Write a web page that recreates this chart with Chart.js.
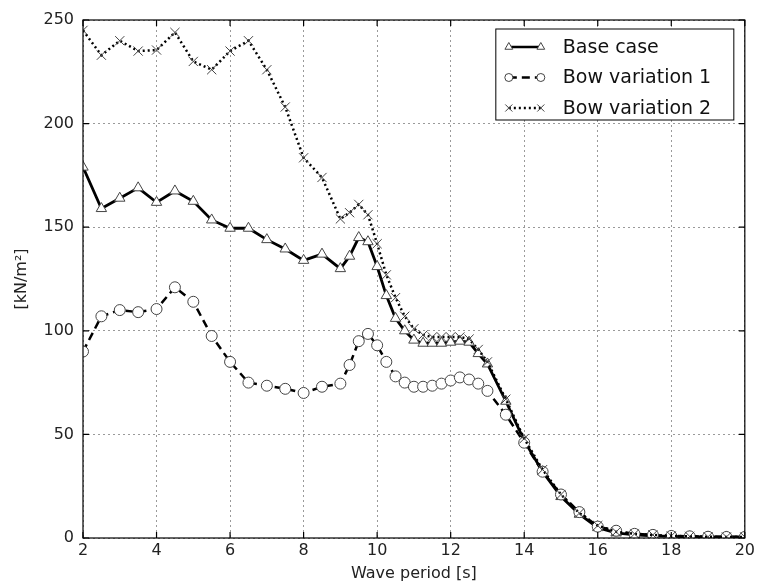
<!DOCTYPE html>
<html><head><meta charset="utf-8">
<script src="https://cdn.jsdelivr.net/npm/chart.js@4/dist/chart.umd.min.js"></script>
<style>html,body{margin:0;padding:0;background:#fff}#wrap{width:758px;height:583px}</style>
</head><body><div id="wrap"><canvas id="c" width="758" height="583"></canvas></div>
<script>
const periods = [2,2.5,3,3.5,4,4.5,5,5.5,6,6.5,7,7.5,8,8.5,9,
  9.25,9.5,9.75,10,10.25,10.5,10.75,11,11.25,11.5,11.75,12,12.25,12.5,12.75,13,
  13.5,14,14.5,15,15.5,16,16.5,17,17.5,18,18.5,19,19.5,20];
const baseCase = [179,159,164,169,162,167.5,162.5,153.5,149.5,149.5,144,139.5,134,137,130,
  136,145,143,131,117,106,100,95.5,94,94,94,94.5,95,94.5,89,84,
  66,47,32,20,11.5,5,2.5,1.5,1,0.8,0.6,0.5,0.5,0.5];
const bowVar1 = [90,107,110,109,110.5,121,114,97.5,85,75,73.5,72,70,73,74.5,
  83.5,95,98.5,93,85,78,75,73,73,73.5,74.5,76,77.5,76.5,74.5,71,
  59.5,46,32,21,12.5,5.5,3.5,2,1.5,1,0.8,0.6,0.5,0.5];
const bowVar2 = [245,233,240,235,235.5,244,230,226,235,240,226,208,183.5,174,154,
  157,161,156,142,127,116,107,101,98,97,97,97,97,96,91,85,
  67,48,33,21,12,6,3,2,1.5,1,0.8,0.6,0.5,0.5];
const seriesNames = ['Base case','Bow variation 1','Bow variation 2'];
const xTicks = [2,4,6,8,10,12,14,16,18,20];
const yTicks = [0,50,100,150,200,250];

const FONT = "'DejaVu Sans', sans-serif";
const pts = arr => periods.map((p,i)=>({x:p,y:arr[i]}));

const styles = [
  {dash:[], marker:'triangle', r:6, w:2.8},
  {dash:[8,5], marker:'circle', r:5.5, w:2.5},
  {dash:[2,3], marker:'crossRot', r:6.5, w:2.5}
];

const frameAndLegend = {
  id:'frameAndLegend',
  afterDraw(chart){
    const ctx = chart.ctx, a = chart.chartArea;
    const xs = chart.scales.x, ys = chart.scales.y;
    ctx.save();
    ctx.strokeStyle = '#000'; ctx.lineWidth = 1.2; ctx.setLineDash([]);
    ctx.strokeRect(a.left, a.top, a.right-a.left, a.bottom-a.top);
    const tl = 6;
    ctx.beginPath();
    xTicks.forEach(v=>{const px = xs.getPixelForValue(v);
      ctx.moveTo(px,a.bottom); ctx.lineTo(px,a.bottom-tl);
      ctx.moveTo(px,a.top); ctx.lineTo(px,a.top+tl);});
    yTicks.forEach(v=>{const py = ys.getPixelForValue(v);
      ctx.moveTo(a.left,py); ctx.lineTo(a.left+tl,py);
      ctx.moveTo(a.right,py); ctx.lineTo(a.right-tl,py);});
    ctx.stroke();
    // legend
    const lx = a.right-249, ly = a.top+9, lw = 238, lh = 91;
    ctx.fillStyle = '#fff';
    ctx.fillRect(lx,ly,lw,lh);
    ctx.strokeStyle = '#000'; ctx.lineWidth = 1;
    ctx.strokeRect(lx,ly,lw,lh);
    ctx.font = '19px ' + FONT;
    ctx.textBaseline = 'middle';
    chart.data.datasets.forEach((ds,i)=>{
      const cy = ly + 18 + i*30.5;
      const x1 = lx + 13, x2 = lx + 45;
      ctx.strokeStyle = '#000'; ctx.lineWidth = 2.5;
      ctx.setLineDash(styles[i].dash);
      ctx.beginPath(); ctx.moveTo(x1,cy); ctx.lineTo(x2,cy); ctx.stroke();
      ctx.setLineDash([]);
      [x1,x2].forEach(px=>{
        ctx.fillStyle = '#fff'; ctx.strokeStyle = '#444'; ctx.lineWidth = 1;
        Chart.helpers.drawPoint(ctx,{pointStyle:styles[i].marker, radius:styles[i].r-1.5, borderWidth:1, rotation:0}, px, cy);
      });
      ctx.fillStyle = '#111';
      ctx.fillText(ds.label, lx + 67, cy+1);
    });
    ctx.restore();
  }
};

new Chart(document.getElementById('c'), {
  type:'line',
  data:{datasets: [baseCase,bowVar1,bowVar2].map((arr,i)=>({
    label: seriesNames[i],
    data: pts(arr),
    borderColor:'#000',
    borderWidth:styles[i].w,
    borderDash: styles[i].dash,
    pointStyle: styles[i].marker,
    pointRadius: styles[i].r,
    pointBackgroundColor:'#fff',
    pointBorderColor:'#444',
    pointBorderWidth:1,
    tension:0,
    fill:false,
    order: 3-i
  }))},
  options:{
    responsive:false, animation:false,
    layout:{padding:{top:20, right:9, left:0, bottom:0}},
    plugins:{legend:{display:false}, tooltip:{enabled:false}},
    scales:{
      x:{type:'linear', min:2, max:20,
        afterBuildTicks: s => { s.ticks = xTicks.map(v=>({value:v})); },
        afterFit: s => { s.height = 45; },
        grid:{color:'#9a9a9a', lineWidth:1, drawTicks:false},
        border:{display:false, dash:[2,3]},
        ticks:{color:'#222', font:{family:FONT, size:16}, padding:3, maxRotation:0},
        title:{display:true, text:'Wave period [s]', color:'#222', font:{family:FONT, size:16}, padding:{top:2,bottom:0}}
      },
      y:{min:0, max:250,
        afterBuildTicks: s => { s.ticks = yTicks.map(v=>({value:v})); },
        afterFit: s => { s.width = 83; },
        grid:{color:'#9a9a9a', lineWidth:1, drawTicks:false},
        border:{display:false, dash:[2,3]},
        ticks:{color:'#222', font:{family:FONT, size:16}, padding:9},
        title:{display:true, text:'[kN/m²]', color:'#222', font:{family:FONT, size:16}, padding:{top:12,bottom:4}}
      }
    }
  },
  plugins:[frameAndLegend]
});
</script></body></html>
